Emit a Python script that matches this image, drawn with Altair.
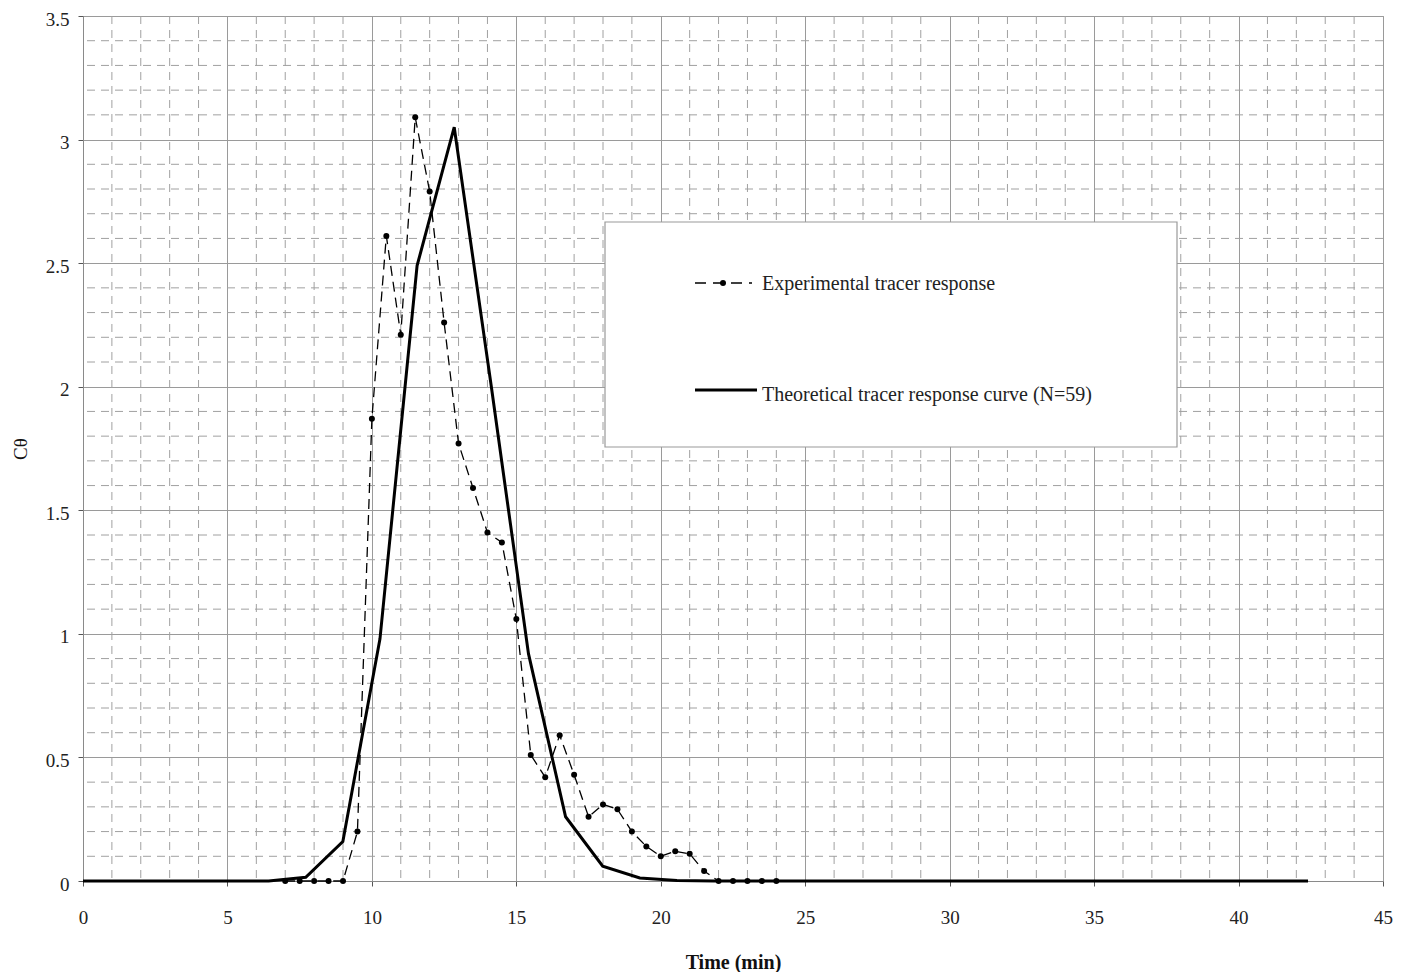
import altair as alt
import pandas as pd

# ---------------- data ----------------
exp_time = [7.0, 7.5, 8.0, 8.5, 9.0, 9.5, 10.0, 10.5, 11.0, 11.5, 12.0, 12.5, 13.0,
            13.5, 14.0, 14.5, 15.0, 15.5, 16.0, 16.5, 17.0, 17.5, 18.0, 18.5, 19.0,
            19.5, 20.0, 20.5, 21.0, 21.5, 22.0, 22.5, 23.0, 23.5, 24.0]
exp_c = [0, 0, 0, 0, 0, 0.20, 1.87, 2.61, 2.21, 3.09, 2.79, 2.26, 1.77,
         1.59, 1.41, 1.37, 1.06, 0.51, 0.42, 0.59, 0.43, 0.26, 0.31, 0.29, 0.20,
         0.14, 0.10, 0.12, 0.11, 0.04, 0, 0, 0, 0, 0]

theo_time = [0, 1.285, 2.57, 3.855, 5.14, 6.425, 7.71, 8.995, 10.28, 11.565, 12.85,
             14.135, 15.42, 16.705, 17.99, 19.275, 20.56, 21.845, 23.13, 24.415,
             25.7, 26.985, 28.27, 29.555, 30.84, 32.125, 33.41, 34.695, 35.98,
             37.265, 38.55, 39.835, 41.12, 42.405]
theo_c = [0, 0, 0, 0, 0, 0, 0.015, 0.16, 0.98, 2.49, 3.05,
          2.0, 0.92, 0.26, 0.06, 0.012, 0.002, 0, 0, 0,
          0, 0, 0, 0, 0, 0, 0, 0, 0,
          0, 0, 0, 0, 0]

x_major = [0, 5, 10, 15, 20, 25, 30, 35, 40, 45]
y_major = [0, 0.5, 1, 1.5, 2, 2.5, 3, 3.5]
x_minor = [v for v in range(1, 45) if v % 5 != 0]
y_minor = [round(v / 10, 1) for v in range(1, 35) if v % 5 != 0]

legend_exp = "Experimental tracer response"
legend_theo = "Theoretical tracer response curve (N=59)"

FONT = "Liberation Serif"

exp_df = pd.DataFrame({"t": exp_time, "c": exp_c})
theo_df = pd.DataFrame({"t": theo_time, "c": theo_c})
xmin_df = pd.DataFrame({"t": x_minor})
ymin_df = pd.DataFrame({"c": y_minor})
one = pd.DataFrame({"k": [0]})

xscale = alt.Scale(domain=[0, 45], nice=False, zero=False)
yscale = alt.Scale(domain=[0, 3.5], nice=False)

xaxis = alt.Axis(values=x_major, title="Time (min)", grid=True, gridColor="#9a9a9a",
                 gridWidth=1, domainColor="#8a8a8a", tickColor="#555", tickSize=5,
                 labelPadding=22, titlePadding=25, titleFontWeight="bold",
                 labelFlush=False,
                 titleFontSize=20, labelFontSize=19, labelFont=FONT, titleFont=FONT,
                 labelColor="#222", titleColor="#111")
yaxis = alt.Axis(values=y_major, title="Cθ", grid=True, gridColor="#9a9a9a",
                 gridWidth=1, domainColor="#8a8a8a", tickColor="#555", tickSize=5,
                 labelPadding=9, titlePadding=15, format=".1~f", labelOffset=3,
                 labelFlush=False,
                 titleFontWeight="normal", titleFontSize=19, labelFontSize=19,
                 labelFont=FONT, titleFont=FONT, labelColor="#222", titleColor="#111")

minor_x = alt.Chart(xmin_df).mark_rule(color="#a0a0a0", strokeWidth=1,
                                        strokeDash=[8, 6]).encode(
    x=alt.X("t:Q", scale=xscale, axis=xaxis))
minor_y = alt.Chart(ymin_df).mark_rule(color="#a0a0a0", strokeWidth=1,
                                        strokeDash=[8, 6]).encode(
    y=alt.Y("c:Q", scale=yscale, axis=yaxis))

legend_box = alt.Chart(one).mark_rect(fill="white", stroke="#9a9a9a",
                                      strokeWidth=1.2).encode(
    x=alt.value(522), x2=alt.value(1094), y=alt.value(206), y2=alt.value(431))

theo_line = alt.Chart(theo_df).mark_line(color="black", strokeWidth=3).encode(
    x=alt.X("t:Q", scale=xscale), y=alt.Y("c:Q", scale=yscale))

exp_line = alt.Chart(exp_df).mark_line(color="black", strokeWidth=1.3,
                                       strokeDash=[10, 6]).encode(
    x=alt.X("t:Q", scale=xscale), y=alt.Y("c:Q", scale=yscale))
exp_pts = alt.Chart(exp_df).mark_point(filled=True, color="black", size=36,
                                       opacity=1).encode(
    x=alt.X("t:Q", scale=xscale), y=alt.Y("c:Q", scale=yscale))

leg1_line = alt.Chart(one).mark_rule(color="black", strokeWidth=1.5,
                                     strokeDash=[11, 7]).encode(
    x=alt.value(612), x2=alt.value(669), y=alt.value(267))
leg1_pt = alt.Chart(one).mark_point(filled=True, color="black", size=36,
                                    opacity=1).encode(
    x=alt.value(640), y=alt.value(267))
leg1_txt = alt.Chart(one).mark_text(align="left", baseline="middle", font=FONT,
                                    fontSize=20, color="#222").encode(
    x=alt.value(679), y=alt.value(268), text=alt.value(legend_exp))
leg2_line = alt.Chart(one).mark_rule(color="black", strokeWidth=3).encode(
    x=alt.value(612), x2=alt.value(674), y=alt.value(374))
leg2_txt = alt.Chart(one).mark_text(align="left", baseline="middle", font=FONT,
                                    fontSize=20, color="#222").encode(
    x=alt.value(679), y=alt.value(379), text=alt.value(legend_theo))

chart = alt.layer(
    minor_x, minor_y, legend_box, theo_line, exp_line, exp_pts,
    leg1_line, leg1_pt, leg1_txt, leg2_line, leg2_txt
).properties(
    width=1300, height=865,
    autosize=alt.AutoSizeParams(type="none"),
    padding={"left": 75, "top": 8, "right": 15, "bottom": 91},
    background="white",
).configure_view(stroke="#9a9a9a", strokeWidth=1)

chart.save("out.html", embed_options={"renderer": "svg", "actions": False})
